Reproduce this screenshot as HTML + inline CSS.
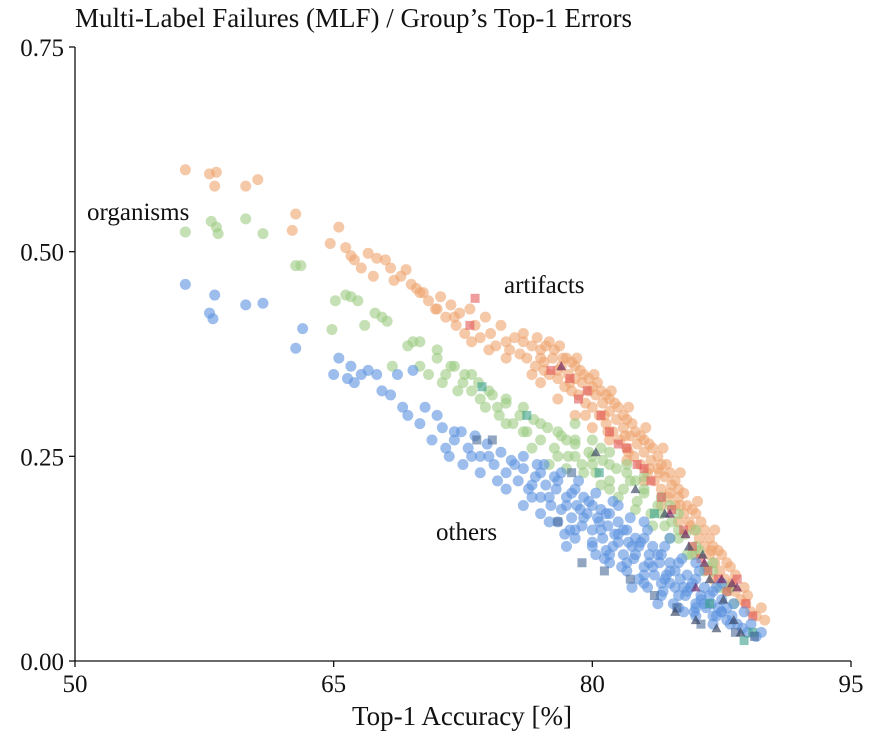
<!DOCTYPE html>
<html><head><meta charset="utf-8"><style>
body{margin:0;background:#fff}
svg text{font-family:"Liberation Serif",serif;fill:#111}
</style></head><body>
<svg id="chart" width="883" height="750" viewBox="0 0 883 750">
<text x="75" y="27" font-size="27">Multi-Label Failures (MLF) / Group’s Top-1 Errors</text>
<g id="marks"></g>
<g id="axes"></g>
<text x="87" y="220" font-size="25">organisms</text>
<text x="504" y="293" font-size="25">artifacts</text>
<text x="436" y="540" font-size="25">others</text>
<text x="462" y="725" font-size="27" text-anchor="middle">Top-1 Accuracy [%]</text>
</svg>
<script>
const xTicks=[50,65,80,95];
const yTicks=[0,0.25,0.5,0.75];
const yTickLabels=["0.00","0.25","0.50","0.75"];
const orangePts=[[56.4,.60],[57.8,.595],[58.2,.597],[58.1,.58],[59.9,.58],[60.6,.588],[62.8,.546],[62.6,.526],[64.8,.51],[65.3,.53],[65.7,.505],[66,.495],[66.2,.49],[66.6,.48],[67,.498],[67.3,.47],[67.5,.492],[68,.49],[68.3,.48],[68.9,.47],[69.2,.478],[69.5,.46],[69.8,.455],[70.2,.45],[70.5,.44],[70.9,.43],[71.2,.445],[71.5,.42],[71.8,.435],[72.1,.41],[72.3,.425],[72.6,.40],[72.9,.43],[73.2,.41],[73.5,.395],[73.8,.42],[74.1,.40],[74.4,.385],[74.7,.41],[75,.39],[75.2,.38],[75.5,.395],[75.8,.375],[76,.39],[76.2,.37],[76.5,.385],[76.7,.36],[77,.38],[77.2,.365],[77.5,.35],[77.7,.37],[78,.345],[78.2,.36],[78.4,.335],[78.6,.35],[78.8,.33],[79,.345],[79.2,.325],[79.4,.34],[79.6,.315],[79.8,.33],[80,.31],[80.2,.325],[80.4,.30],[80.6,.315],[80.8,.29],[81,.305],[81.2,.28],[81.4,.295],[81.6,.27],[81.8,.285],[82,.26],[82.2,.275],[82.4,.25],[82.6,.265],[82.8,.24],[83,.255],[83.2,.23],[83.4,.245],[83.6,.22],[83.8,.235],[84,.21],[84.2,.225],[84.4,.20],[84.6,.215],[84.8,.19],[85,.20],[85.3,.18],[85.6,.17],[85.9,.16],[86.2,.15],[86.5,.14],[86.8,.13],[87.1,.12],[87.4,.11],[87.7,.10],[88,.09],[88.3,.085],[88.6,.075],[88.9,.07],[89.2,.06],[89.5,.055],[77,.34],[78,.32],[79,.30],[80,.285],[81,.27],[82,.245],[76.5,.35],[75,.37],[74,.38],[83,.22],[84,.19],[85,.17],[86,.13],[87,.10],[79.5,.35],[80.5,.33],[81.5,.31],[82.5,.28],[83.5,.26],[84.5,.23],[85.5,.19],[86.5,.16],[87.5,.13],[78.5,.37],[77.5,.39],[76,.40],[79,.36],[80,.335],[81,.32],[82,.295],[83,.27],[84,.24],[85,.21],[86,.18],[87,.14],[88,.115],[78,.355],[77,.37],[73,.39],[72,.42],[71,.43],[70,.45],[68.5,.465],[76.8,.395],[77.8,.38],[78.8,.365],[79.8,.345],[80.8,.325],[81.8,.30],[82.8,.275],[83.8,.25],[84.8,.22],[85.8,.185],[86.8,.15],[87.8,.12],[88.8,.09],[77.3,.385],[78.3,.37],[79.3,.355],[80.3,.34],[81.3,.315],[82.3,.29],[83.3,.265],[84.3,.24],[85.3,.205],[86.3,.17],[87.3,.135],[88.3,.105],[79.6,.30],[80.9,.28],[82.1,.255],[83.3,.235],[84.5,.205],[85.7,.165],[86.9,.135],[88.1,.095],[89,.08],[89.8,.065],[90,.05],[78.1,.385],[79.1,.37],[80.1,.35],[81.1,.33],[82.1,.31],[83.1,.285],[84.1,.26],[85.1,.23],[86.1,.195],[87.1,.16],[80.7,.30],[81.9,.275],[83.9,.23],[85.1,.19],[77.2,.355],[78.7,.34]];
const greenPts=[[56.4,.524],[57.9,.537],[58.2,.53],[58.3,.522],[59.9,.54],[60.9,.522],[62.8,.483],[63.1,.483],[64.9,.405],[65.1,.44],[65.7,.447],[66,.445],[66.4,.44],[66.8,.41],[67.4,.425],[67.8,.42],[68.1,.415],[68.4,.36],[69.3,.385],[69.6,.39],[70,.39],[70.5,.35],[71,.37],[71.3,.34],[71.8,.36],[72.2,.33],[72.6,.35],[73,.33],[73.4,.34],[73.8,.31],[74.2,.325],[74.6,.30],[75,.315],[75.4,.29],[75.8,.30],[76.2,.28],[76.6,.295],[77,.27],[77.4,.285],[77.8,.26],[78.2,.275],[78.6,.25],[79,.265],[79.4,.24],[79.8,.255],[80.2,.23],[80.6,.245],[81,.22],[81.4,.235],[81.8,.21],[82.2,.22],[82.6,.195],[83,.205],[83.4,.18],[83.8,.19],[84.2,.165],[84.6,.17],[85,.15],[85.4,.155],[85.8,.13],[86.2,.135],[86.6,.115],[87,.11],[87.4,.09],[87.8,.085],[88.2,.07],[76,.31],[77,.29],[78,.28],[79,.27],[80,.25],[81,.24],[82,.23],[83,.21],[84,.18],[85,.16],[86,.14],[75,.32],[74,.33],[73,.35],[72,.36],[71,.38],[70,.36],[76.5,.26],[78.5,.27],[80.5,.26],[82.5,.22],[84.5,.19],[77.5,.24],[78.5,.235],[79.5,.23],[80.5,.215],[81.5,.2],[82.5,.185],[83.5,.165],[84.5,.15],[85.5,.13],[86.5,.11],[78,.25],[79,.25],[80,.24],[81,.21],[76,.28],[75,.29],[74.5,.31],[73.5,.32],[72.5,.34],[71.5,.35],[79,.29],[80,.27],[81,.255],[82,.24],[83,.225],[84,.2],[85,.18],[86,.16],[87,.12],[88,.09]];
const bluePts=[[56.4,.46],[57.8,.425],[58,.418],[58.1,.447],[59.9,.435],[60.9,.437],[62.8,.382],[63.2,.406],[65,.35],[65.3,.37],[65.8,.345],[66,.36],[66.2,.34],[66.6,.35],[67,.355],[67.5,.35],[67.8,.33],[68.3,.325],[68.7,.35],[69,.31],[69.3,.30],[69.6,.355],[70,.29],[70.3,.31],[70.7,.27],[71,.3],[71.3,.285],[71.7,.25],[72,.27],[72.4,.28],[72.8,.26],[73.2,.275],[73.5,.25],[73.9,.265],[74.3,.24],[74.7,.255],[75,.23],[75.3,.245],[75.7,.22],[76,.235],[76.3,.21],[76.7,.225],[77,.20],[77.3,.215],[77.6,.19],[77.9,.21],[78.2,.185],[78.5,.20],[78.8,.175],[79.1,.19],[79.4,.165],[79.7,.18],[80,.16],[80.3,.175],[80.6,.15],[80.9,.165],[81.2,.14],[81.5,.155],[81.8,.13],[82.1,.145],[82.4,.125],[82.7,.14],[83,.115],[83.3,.13],[83.6,.105],[83.9,.12],[84.2,.10],[84.5,.11],[84.8,.09],[85.1,.10],[85.4,.08],[85.7,.09],[86,.07],[86.3,.08],[86.6,.065],[86.9,.07],[87.2,.055],[87.5,.06],[87.8,.05],[88.1,.055],[88.4,.045],[88.7,.04],[89,.035],[89.5,.03],[77,.23],[78,.22],[79,.21],[80,.19],[81,.18],[82,.16],[83,.15],[84,.13],[85,.12],[86,.10],[87,.085],[78,.17],[79,.15],[80,.14],[81,.13],[82,.11],[83,.095],[84,.08],[85,.065],[86,.055],[87,.045],[76,.19],[77,.18],[75,.21],[76.5,.20],[79.5,.2],[80.5,.185],[81.5,.17],[82.5,.15],[83.5,.14],[84.5,.12],[85.5,.105],[86.5,.09],[87.5,.075],[80.2,.13],[81.7,.115],[83.2,.09],[84.7,.07],[78.4,.155],[74.5,.22],[73.5,.23],[72.5,.24],[71.5,.26],[76.5,.215],[77.5,.2],[78.5,.19],[79.5,.175],[80.5,.16],[81.5,.145],[82.5,.13],[83.5,.115],[84.5,.095],[85.5,.085],[86.5,.07],[87.5,.06],[76.8,.24],[77.8,.225],[78.8,.205],[79.8,.195],[80.8,.18],[81.8,.16],[82.8,.145],[83.8,.13],[84.8,.11],[85.8,.095],[86.8,.08],[87.8,.065],[79,.16],[80,.145],[81,.12],[82,.12],[83,.105],[84,.095],[85,.08],[86,.065],[87,.055],[88,.045],[77.5,.17],[78.5,.14],[80.8,.135],[82.3,.09],[83.8,.07],[85.3,.06],[74,.25],[73,.25],[72,.28],[75.5,.24],[76,.25],[77.2,.24],[78.2,.23],[79.2,.22],[80.2,.205],[81.2,.195],[82.2,.175],[83.2,.16],[84.2,.14],[85.2,.125],[86.2,.11],[87.2,.09],[88.2,.07],[88.8,.06],[89.2,.045],[89.8,.035],[81.5,.19],[83,.17],[84.5,.15],[86,.12],[87.5,.095],[79.3,.185],[80.4,.17],[81.3,.155],[82.3,.14],[83.3,.12],[84.3,.105],[85.3,.09],[86.3,.075],[87.3,.065],[78.7,.16],[80.7,.125],[82.7,.10],[84.1,.085],[85.9,.06]];
const redPts=[[73.2,.443],[72.9,.41],[77.6,.355],[78.7,.345],[79.7,.33],[81,.28],[81.5,.265],[82.6,.24],[83.4,.22],[84,.20],[84.6,.185],[85.3,.16],[85.8,.14],[86.3,.125],[86.7,.11],[87.3,.10],[87.8,.085],[88.4,.10],[88.9,.07],[89.3,.055],[82,.26],[83,.235],[80.5,.3],[79.2,.32]];
const navyTriPts=[[80.2,.255],[82.5,.21],[84.2,.18],[85.6,.14],[86.4,.13],[86.8,.10],[87.6,.075],[88.2,.05],[88.6,.035],[84.8,.06],[86,.05],[87.2,.04]];
const purplePts=[[84.5,.18],[85.4,.155],[86.5,.12],[87.5,.10],[88.1,.095],[88.4,.09],[78.2,.36],[86,.09]];
const navySqPts=[[73.3,.27],[74.2,.27],[78,.17],[79.4,.12],[80.7,.11],[82.2,.10],[83.6,.08],[84.9,.065],[86.3,.045],[88.3,.035],[78.8,.23],[89.4,.03]];
const tealPts=[[73.6,.335],[76.2,.30],[80.4,.23],[83.6,.18],[86.8,.07],[88.8,.025],[89.3,.035]];
const x=v=>75+(v-50)*776/45;
const y=v=>661-v*614/0.75;
const NS='http://www.w3.org/2000/svg';
const marks=document.getElementById('marks');
function circles(pts,fill,name){pts.forEach(p=>{const c=document.createElementNS(NS,'circle');
c.setAttribute('cx',x(p[0]));c.setAttribute('cy',y(p[1]));c.setAttribute('r',5.5);c.setAttribute('fill',fill);c.setAttribute('fill-opacity',0.6);


marks.appendChild(c);});}
function squares(pts,fill,name){pts.forEach(p=>{const c=document.createElementNS(NS,'rect');
c.setAttribute('x',x(p[0])-4.5);c.setAttribute('y',y(p[1])-4.5);c.setAttribute('width',9);c.setAttribute('height',9);c.setAttribute('fill',fill);c.setAttribute('fill-opacity',0.6);


marks.appendChild(c);});}
function tris(pts,fill,name){pts.forEach(p=>{const c=document.createElementNS(NS,'polygon');const cx=x(p[0]),cy=y(p[1]);
c.setAttribute('points',`${cx},${cy-5} ${cx-5},${cy+4} ${cx+5},${cy+4}`);c.setAttribute('fill',fill);c.setAttribute('fill-opacity',0.65);


marks.appendChild(c);});}
circles(orangePts,'#eea46e','point-artifacts');
circles(greenPts,'#9ccb82','point-organisms-mid');
squares(redPts,'#e25a5a','point-red-square');
circles(bluePts,'#5b93df','point-others');
squares(tealPts,'#3aa08a','point-teal-square');
squares(navySqPts,'#4a6a9a','point-navy-square');
tris(purplePts,'#6a1f5e','point-purple');
tris(navyTriPts,'#33405e','point-navy-triangle');
const axes=document.getElementById('axes');
function line(x1,y1,x2,y2,name){const l=document.createElementNS(NS,'line');l.setAttribute('x1',x1);l.setAttribute('y1',y1);l.setAttribute('x2',x2);l.setAttribute('y2',y2);l.setAttribute('stroke','#111');l.setAttribute('stroke-width',1.3);


axes.appendChild(l);}
line(75,47,75,661,'y-axis-line');
line(75,661,851,661,'x-axis-line');
xTicks.forEach(t=>{line(x(t),661,x(t),667,'x-tick');const tx=document.createElementNS(NS,'text');tx.setAttribute('x',x(t));tx.setAttribute('y',692);tx.setAttribute('font-size',25);tx.setAttribute('text-anchor','middle');tx.textContent=t;


axes.appendChild(tx);});
yTicks.forEach((t,i)=>{line(69,y(t),75,y(t),'y-tick');const tx=document.createElementNS(NS,'text');tx.setAttribute('x',64);tx.setAttribute('y',y(t)+9);tx.setAttribute('font-size',25);tx.setAttribute('text-anchor','end');tx.textContent=yTickLabels[i];


axes.appendChild(tx);});
</script>
</body></html>
